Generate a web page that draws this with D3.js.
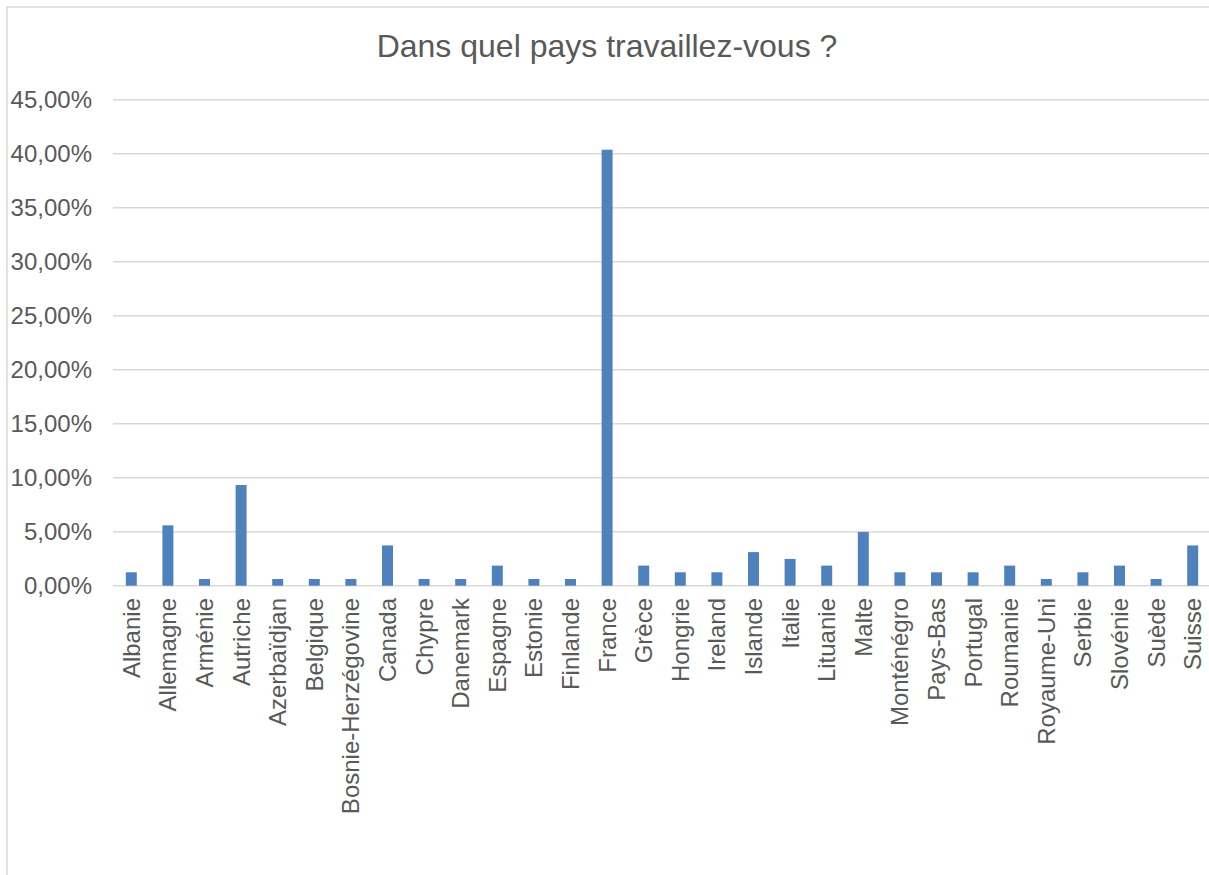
<!DOCTYPE html>
<html>
<head>
<meta charset="utf-8">
<script src="https://cdn.jsdelivr.net/npm/d3@7"></script>
<style>
  html, body { margin: 0; padding: 0; background: #fff; }
  svg { display: block; }
  text { font-family: "Liberation Sans", Arial, sans-serif; fill: #595959; }
</style>
</head>
<body>
<svg id="chart" width="1209" height="875"></svg>
<script>
const title = "Dans quel pays travaillez-vous ?";
const categories = ["Albanie","Allemagne","Arménie","Autriche","Azerbaïdjan","Belgique","Bosnie-Herzégovine","Canada","Chypre","Danemark","Espagne","Estonie","Finlande","France","Grèce","Hongrie","Ireland","Islande","Italie","Lituanie","Malte","Monténégro","Pays-Bas","Portugal","Roumanie","Royaume-Uni","Serbie","Slovénie","Suède","Suisse"];
const values = [1.24,5.59,0.62,9.32,0.62,0.62,0.62,3.73,0.62,0.62,1.86,0.62,0.62,40.37,1.86,1.24,1.24,3.11,2.48,1.86,4.97,1.24,1.24,1.24,1.86,0.62,1.24,1.86,0.62,3.73];
const yTicks = [0,5,10,15,20,25,30,35,40,45];

const svg = d3.select("#chart");

// chart border
svg.append("rect")
  .attr("x", 7).attr("y", 7).attr("width", 1220).attr("height", 900)
  .attr("fill", "none").attr("stroke", "#d9d9d9").attr("stroke-width", 1.5);

const plot = {left: 113, right: 1211, top: 99.7, bottom: 585.7};

const x = d3.scaleBand().domain(categories).range([plot.left, plot.right])
  .paddingInner(0.7).paddingOuter(0.35);
const y = d3.scaleLinear().domain([0, 45]).range([plot.bottom, plot.top]);

// gridlines
svg.append("g").selectAll("line").data(yTicks).join("line")
  .attr("x1", plot.left).attr("x2", plot.right)
  .attr("y1", d => y(d)).attr("y2", d => y(d))
  .attr("stroke", "#d9d9d9").attr("stroke-width", 1.5);

// y tick labels
const fmt = d => d.toFixed(2).replace(".", ",") + "%";
svg.append("g").selectAll("text").data(yTicks).join("text")
  .attr("x", 92).attr("y", d => y(d)).attr("dy", "0.35em")
  .attr("text-anchor", "end").attr("font-size", 24)
  .text(fmt);

// bars
svg.append("g").selectAll("rect").data(values).join("rect")
  .attr("x", (d, i) => x(categories[i]))
  .attr("width", x.bandwidth())
  .attr("y", d => y(d))
  .attr("height", d => y(0) - y(d))
  .attr("fill", "#4f81bd");

// x labels
svg.append("g").selectAll("text").data(categories).join("text")
  .attr("transform", d => `translate(${x(d) + x.bandwidth() / 2},598) rotate(-90)`)
  .attr("dy", "0.35em")
  .attr("text-anchor", "end").attr("font-size", 24)
  .text(d => d);

// title
svg.append("text")
  .attr("x", 607).attr("y", 57)
  .attr("text-anchor", "middle").attr("font-size", 32)
  .text(title);
</script>
</body>
</html>
